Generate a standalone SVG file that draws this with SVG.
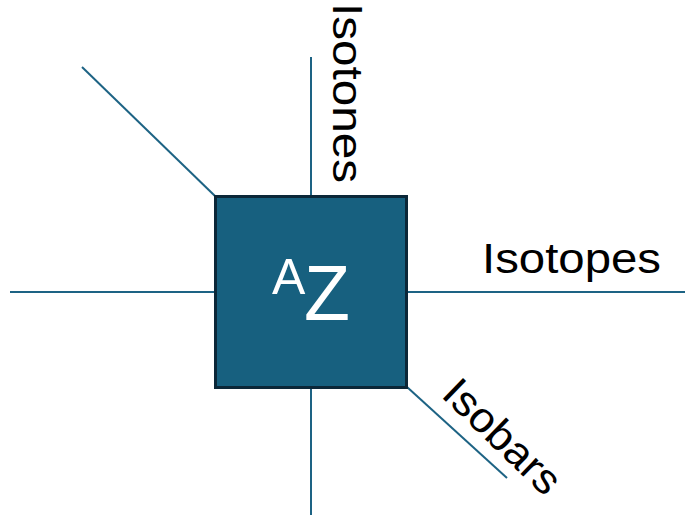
<svg xmlns="http://www.w3.org/2000/svg" width="685" height="519" viewBox="0 0 685 519">
  <style>
    .axis { stroke: #1d6384; stroke-width: 2; fill: none; }
    .label { font-family: "Liberation Sans", Arial, sans-serif; font-size: 42px; fill: #000; }
    .nuc { font-family: "Liberation Sans", Arial, sans-serif; fill: #fff; }
  </style>
  <rect width="685" height="519" fill="#fff"/>
  <g id="connectors">
    <line class="axis" x1="311" y1="57" x2="311" y2="196"/>
    <line class="axis" x1="311" y1="388" x2="311" y2="515"/>
    <line class="axis" x1="10" y1="292" x2="215" y2="292"/>
    <line class="axis" x1="407" y1="292" x2="685" y2="292"/>
    <line class="axis" x1="82" y1="67" x2="215" y2="196"/>
    <line class="axis" x1="407" y1="387" x2="507" y2="478"/>
  </g>
  <g id="nuclide">
    <rect x="215.5" y="196.5" width="191" height="191" fill="#17607f" stroke="#0b2738" stroke-width="3"/>
    <text class="nuc" x="272" y="294" font-size="50">A</text>
    <text class="nuc" x="304" y="320" font-size="77" textLength="46" lengthAdjust="spacingAndGlyphs">Z</text>
  </g>
  <g id="isotones">
    <text class="label" transform="translate(333,3) rotate(90)" textLength="180" lengthAdjust="spacingAndGlyphs">Isotones</text>
  </g>
  <g id="isotopes">
    <text class="label" x="482" y="273" textLength="179" lengthAdjust="spacingAndGlyphs">Isotopes</text>
  </g>
  <g id="isobars">
    <text class="label" transform="translate(440,396) rotate(44)" textLength="146" lengthAdjust="spacingAndGlyphs">Isobars</text>
  </g>
</svg>
